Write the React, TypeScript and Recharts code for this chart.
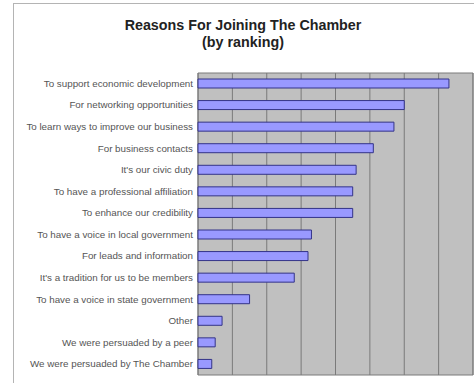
import React from 'react';
import { BarChart, Bar, XAxis, YAxis, CartesianGrid, ReferenceArea } from 'recharts';

const reasons = [
  'To support economic development',
  'For networking opportunities',
  'To learn ways to improve our business',
  'For business contacts',
  "It's our civic duty",
  'To have a professional affiliation',
  'To enhance our credibility',
  'To have a voice in local government',
  'For leads and information',
  "It's a tradition for us to be members",
  'To have a voice in state government',
  'Other',
  'We were persuaded by a peer',
  'We were persuaded by The Chamber',
];

const rankings = [73, 60, 57, 51, 46, 45, 45, 33, 32, 28, 15, 7, 5, 4];

const gridTicks = [0, 10, 20, 30, 40, 50, 60, 70, 80];

const data = reasons.map((reason, i) => ({ reason, value: rankings[i] }));

const ReasonTick = ({ x, y, payload }: any) => (
  <text x={x} y={y} dy={3} textAnchor="end" fontSize={9.8} fill="#555">
    {payload.value}
  </text>
);

export default function App() {
  return (
    <div style={{ position: 'absolute', left: 0, top: 0, width: 474, height: 383, background: '#fff', overflow: 'hidden', fontFamily: 'Arial, "Liberation Sans", sans-serif' }}>
      <div style={{ position: 'absolute', left: 13, top: 3, width: 480, height: 400, border: '1px solid #b4b4b4' }} />
      <div style={{ position: 'absolute', left: 13, width: 460, top: 17, textAlign: 'center', fontWeight: 'bold', fontSize: 14.3, lineHeight: '17px', color: '#222' }}>
        <div>Reasons For Joining The Chamber</div>
        <div>(by ranking)</div>
      </div>
      <div style={{ position: 'absolute', left: 0, top: 0 }}>
        <BarChart
          width={474}
          height={383}
          data={data}
          layout="vertical"
          margin={{ top: 73, right: 1, bottom: 8, left: 0 }}
        >
          <CartesianGrid horizontal={false} stroke="#7a7a7a" fill="#c0c0c0" fillOpacity={1} />
          <XAxis type="number" domain={[0, 80]} ticks={gridTicks} hide />
          <YAxis
            type="category"
            dataKey="reason"
            width={198}
            axisLine={false}
            tickLine={false}
            tickSize={3}
            tickMargin={2}
            interval={0}
            tick={<ReasonTick />}
          />
          <ReferenceArea x1={0} x2={80} fill="none" stroke="#7a7a7a" />
          <Bar dataKey="value" barSize={9} fill="#9999ff" stroke="#333388" strokeWidth={1} isAnimationActive={false} />
        </BarChart>
      </div>
    </div>
  );
}
